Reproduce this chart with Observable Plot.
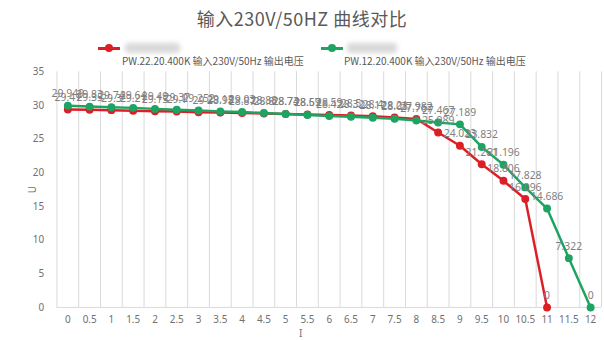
<!DOCTYPE html>
<html><head><meta charset="utf-8">
<script src="https://cdn.jsdelivr.net/npm/d3@7"></script>
<script src="https://cdn.jsdelivr.net/npm/@observablehq/plot@0.6"></script>
<style>
html,body{margin:0;padding:0;overflow:hidden;background:#fff;}
#wrap{position:relative;width:604px;height:340px;overflow:hidden;font-family:"Noto Sans CJK SC","Noto Sans",sans-serif;}
#chart{position:absolute;left:0;top:0;}
.title{position:absolute;left:0;width:604px;top:5px;text-align:center;font-size:18px;color:#595959;letter-spacing:0.5px;}
.leg{position:absolute;font-size:10px;color:#595959;white-space:nowrap;}
.mk{position:absolute;height:3px;width:22px;}
.mk::after{content:"";position:absolute;left:7px;top:-3px;width:8px;height:8px;border-radius:50%;background:inherit;}
.blur{position:absolute;height:10px;background:#d8d8d8;filter:blur(2.5px);border-radius:4px;}
.xlab{position:absolute;left:299px;top:326px;font-size:10px;color:#707070;font-family:"Noto Sans",sans-serif;}
</style></head><body>
<div id="wrap">
<div id="chart"></div>
<div class="title">输入230V/50HZ 曲线对比</div>
<div class="mk" id="mk0" style="left:98px;top:47px;"></div>
<div class="blur" style="left:125px;top:43px;width:55px;"></div>
<div class="leg" id="lg0" style="left:122px;top:53px;"></div>
<div class="mk" id="mk1" style="left:321px;top:47px;"></div>
<div class="blur" style="left:347px;top:43px;width:50px;"></div>
<div class="leg" id="lg1" style="left:344px;top:53px;"></div>
<div class="xlab" id="xlab"></div>
</div>
<script>
const seriesNames = ["PW.22.20.400K 输入230V/50Hz 输出电压", "PW.12.20.400K 输入230V/50Hz 输出电压"];
const seriesColors = ["#dc1f26", "#1ea462"];
const xLabel = "I";
const yLabel = "U";
const xCats = [0,0.5,1,1.5,2,2.5,3,3.5,4,4.5,5,5.5,6,6.5,7,7.5,8,8.5,9,9.5,10,10.5,11,11.5,12];
const yTicks = [0,5,10,15,20,25,30,35];
const redI = [0,0.5,1,1.5,2,2.5,3,3.5,4,4.5,5,5.5,6,6.5,7,7.5,8,8.5,9,9.5,10,10.5,11];
const redU = [29.41,29.35,29.3,29.21,29.15,29.1,29.0,28.95,28.87,28.8,28.73,28.67,28.59,28.5,28.4,28.21,27.982,25.989,24.023,21.261,18.806,16.096,0];
const greenI = [0,0.5,1,1.5,2,2.5,3,3.5,4,4.5,5,5.5,6,6.5,7,7.5,8,8.5,9,9.5,10,10.5,11,11.5,12];
const greenU = [29.949,29.83,29.74,29.64,29.49,29.37,29.252,29.12,29.03,28.88,28.74,28.59,28.42,28.32,28.17,28.03,27.767,27.467,27.189,23.832,21.196,17.828,14.686,7.322,0];

const red = redI.map((x,i)=>({I:x,U:redU[i]}));
const green = greenI.map((x,i)=>({I:x,U:greenU[i]}));
const step = xCats[1]-xCats[0];
const gridX = xCats.map(v=>v-step/2).concat([xCats[xCats.length-1]+step/2]);

document.getElementById("mk0").style.background = seriesColors[0];
document.getElementById("mk1").style.background = seriesColors[1];
document.getElementById("lg0").textContent = seriesNames[0];
document.getElementById("lg1").textContent = seriesNames[1];
document.getElementById("xlab").textContent = xLabel;

const fmt = d => String(+d.toFixed(3));
const chart = Plot.plot({
  width: 610, height: 340,
  marginTop: 72, marginBottom: 30, marginLeft: 57, marginRight: 3,
  style: {fontFamily: "'Noto Sans', 'Noto Sans CJK SC', sans-serif", fontSize: "10px", color: "#707070", background: "transparent"},
  x: {domain: [gridX[0], gridX[gridX.length-1]], ticks: xCats, tickFormat: d => String(d), tickSize: 0, tickPadding: 9, label: null},
  y: {domain: [0,35], ticks: yTicks, tickSize: 0, tickPadding: 13, label: yLabel, labelAnchor: "center", labelArrow: "none", labelOffset: 28},
  marks: [
    Plot.ruleX(gridX, {stroke: "#d9d9d9", strokeWidth: 1}),
    Plot.ruleY([0], {stroke: "#d9d9d9", strokeWidth: 1}),
    Plot.line(red, {x: "I", y: "U", stroke: seriesColors[0], strokeWidth: 2.5}),
    Plot.dot(red, {x: "I", y: "U", fill: seriesColors[0], r: 4}),
    Plot.line(green, {x: "I", y: "U", stroke: seriesColors[1], strokeWidth: 2.5}),
    Plot.dot(green, {x: "I", y: "U", fill: seriesColors[1], r: 4}),
    Plot.text(red, {x: "I", y: "U", text: d => fmt(d.U), dy: -12, fill: "#7f7f7f", fontSize: 10.5}),
    Plot.text(green, {x: "I", y: "U", text: d => fmt(d.U), dy: -12, fill: "#7f7f7f", fontSize: 10.5})
  ]
});
document.getElementById("chart").appendChild(chart);
</script>
</body></html>
